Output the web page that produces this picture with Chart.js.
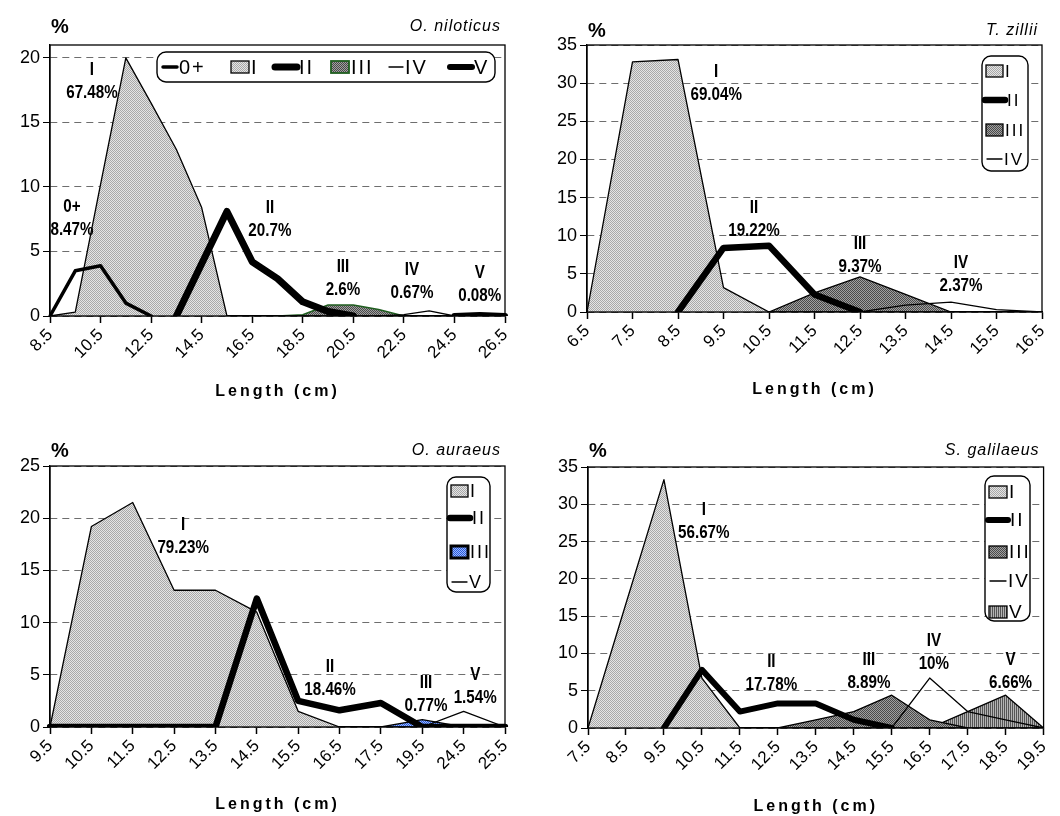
<!DOCTYPE html>
<html>
<head>
<meta charset="utf-8">
<script src="https://cdn.jsdelivr.net/npm/chart.js@4.4.0/dist/chart.umd.min.js"></script>
<style>
  body { margin: 0; background: #fff; width: 1060px; height: 816px; position: relative; overflow: hidden; }
  canvas { position: absolute; }
</style>
</head>
<body>
<canvas id="nil" width="530" height="408" style="left:0;top:0"></canvas>
<canvas id="zil" width="530" height="408" style="left:530px;top:0"></canvas>
<canvas id="aur" width="530" height="408" style="left:0;top:408px"></canvas>
<canvas id="gal" width="530" height="408" style="left:530px;top:408px"></canvas>
<script>
// O. niloticus
const nilLengths = ['8.5','9.5','10.5','11.5','12.5','13.5','14.5','15.5','16.5','17.5','18.5','19.5','20.5','21.5','22.5','23.5','24.5','25.5','26.5'];
const nilYTicks = [0, 5, 10, 15, 20];
const nilAge0 = [0,3.5,3.9,1.0,0,null,null,null,null,null,null,null,null,null,null,null,null,null,null];
const nilAgeI = [0,0.3,10.2,20,16.5,12.9,8.4,0,0,0,0,0,0,0,0,0,0,0,0];
const nilAgeII = [null,null,null,null,null,0,4.05,8.1,4.2,2.9,1.1,0.35,0,null,null,null,null,null,null];
const nilAgeIII = [null,null,null,null,null,null,null,null,null,0,0.1,0.85,0.85,0.5,0,null,null,null,null];
const nilAgeIV = [null,null,null,null,null,null,null,null,null,null,null,null,null,0,0.1,0.4,0,null,null];
const nilAgeV = [null,null,null,null,null,null,null,null,null,null,null,null,null,null,null,null,0,0.08,0];
const nilNotes = [[1.66,19.1,'I','67.48%'],[0.87,8.45,'0+','8.47%'],[8.7,8.37,'II','20.7%'],[11.59,3.85,'III','2.6%'],[14.32,3.57,'IV','0.67%'],[17.0,3.33,'V','0.08%']];

// T. zillii
const zilLengths = ['6.5','7.5','8.5','9.5','10.5','11.5','12.5','13.5','14.5','15.5','16.5'];
const zilYTicks = [0, 5, 10, 15, 20, 25, 30, 35];
const zilAgeI = [0,32.8,33.1,3.2,0,0,0,0,0,0,0];
const zilAgeII = [null,null,0,8.4,8.7,2.3,0,null,null,null,null];
const zilAgeIII = [null,null,null,null,0,2.5,4.6,2.3,0,null,null];
const zilAgeIV = [null,null,null,null,null,null,0,0.9,1.3,0.3,0];
const zilNotes = [[2.84,31.5,'I','69.04%'],[3.67,13.6,'II','19.22%'],[6.0,9.0,'III','9.37%'],[8.22,6.4,'IV','2.37%']];

// O. auraeus
const aurLengths = ['9.5','10.5','11.5','12.5','13.5','14.5','15.5','16.5','17.5','19.5','24.5','25.5'];
const aurYTicks = [0, 5, 10, 15, 20, 25];
const aurAgeI = [0,19.2,21.5,13.1,13.1,11.0,1.5,0,0,0,0,0];
const aurAgeII = [0,0,0,0,0,12.3,2.5,1.6,2.3,0,0,0];
const aurAgeIII = [null,null,null,null,null,null,null,null,0,0.7,0,null];
const aurAgeV = [null,null,null,null,null,null,null,null,null,0,1.5,0];
const aurNotes = [[3.22,19.35,'I','79.23%'],[6.77,5.75,'II','18.46%'],[9.09,4.2,'III','0.77%'],[10.28,5.0,'V','1.54%']];

// S. galilaeus
const galLengths = ['7.5','8.5','9.5','10.5','11.5','12.5','13.5','14.5','15.5','16.5','17.5','18.5','19.5'];
const galYTicks = [0, 5, 10, 15, 20, 25, 30, 35];
const galAgeI = [0,16.7,33.3,6.7,0,0,0,0,0,0,0,0,0];
const galAgeII = [null,null,0,7.8,2.2,3.3,3.3,1.1,0,null,null,null,null];
const galAgeIII = [null,null,null,null,null,0,1.1,2.2,4.4,1.1,0,null,null];
const galAgeIV = [null,null,null,null,null,null,null,null,0,6.7,2.2,1.1,0];
const galAgeV = [null,null,null,null,null,null,null,null,null,0,2.2,4.4,0];
const galNotes = [[3.05,29.2,'I','56.67%'],[4.83,8.85,'II','17.78%'],[7.4,9.1,'III','8.89%'],[9.11,11.7,'IV','10%'],[11.13,9.1,'V','6.66%']];

const FONT = '"Liberation Sans", Arial, sans-serif';

function texture(light, dark, kind) {
  const c = document.createElement('canvas');
  c.width = 4; c.height = 4;
  const g = c.getContext('2d');
  g.fillStyle = light;
  g.fillRect(0, 0, 4, 4);
  g.fillStyle = dark;
  if (kind === 'stripes') {
    g.fillRect(0, 0, 1, 4);
    g.fillRect(2, 0, 1, 4);
  } else {
    for (let y = 0; y < 4; y++)
      for (let x = 0; x < 4; x++)
        if ((x + y) % 2 === 0) g.fillRect(x, y, 1, 1);
  }
  return g.createPattern(c, 'repeat');
}
const lightDots = texture('#e4e4e4', '#a8a8a8');
const darkDots = texture('#a0a0a0', '#4a4a4a');
const blueDots = texture('#9ab8ff', '#2a5ad8');
const greyStripes = texture('#b4b4b4', '#555555', 'stripes');

// squeezed bold text, like the narrow face of the original
function narrowText(ctx, text, x, y) {
  ctx.save();
  ctx.translate(x, y);
  ctx.scale(0.8, 1);
  ctx.fillText(text, 0, 0);
  ctx.restore();
}

// draws frame, labels, legend and titles
const extras = {
  id: 'extras',
  afterDraw(chart, args, o) {
    const ctx = chart.ctx, a = chart.chartArea;
    const xs = chart.scales.x, ys = chart.scales.y;
    ctx.save();
    ctx.strokeStyle = '#000';
    ctx.lineWidth = 1.3;
    ctx.strokeRect(a.left, a.top, a.right - a.left, a.bottom - a.top);

    ctx.fillStyle = '#000';
    ctx.textAlign = 'center';
    ctx.textBaseline = 'middle';
    ctx.font = 'bold 19px ' + FONT;
    o.notes.forEach(n => {
      const x = xs.getPixelForValue(n[0]);
      const y = ys.getPixelForValue(n[1]);
      narrowText(ctx, n[2], x, y);
      narrowText(ctx, n[3], x, y + 23);
    });

    // legend
    const L = o.legend;
    ctx.beginPath();
    ctx.roundRect(L.x, L.y, L.w, L.h, 9);
    ctx.fillStyle = '#fff';
    ctx.fill();
    ctx.lineWidth = 1.4;
    ctx.strokeStyle = '#000';
    ctx.stroke();
    ctx.font = L.size + 'px ' + FONT;
    ctx.letterSpacing = '2px';
    ctx.textAlign = 'left';
    L.items.forEach(it => {
      const ds = chart.data.datasets[it.ds];
      const sx = L.x + it.x, sy = L.y + it.y;
      if (ds.fill) {
        ctx.fillStyle = ds.backgroundColor;
        ctx.fillRect(sx, sy - 6, it.w, 12);
        ctx.strokeStyle = ds.borderColor;
        ctx.lineWidth = it.bw || 1.3;
        ctx.strokeRect(sx, sy - 6, it.w, 12);
      } else {
        ctx.strokeStyle = ds.borderColor;
        ctx.lineWidth = ds.borderWidth;
        ctx.lineCap = 'round';
        ctx.beginPath();
        ctx.moveTo(sx, sy);
        ctx.lineTo(sx + it.w, sy);
        ctx.stroke();
      }
      ctx.fillStyle = '#000';
      ctx.fillText(ds.label, sx + it.w + 2, sy + 1);
    });

    ctx.font = 'bold 20px ' + FONT;
    ctx.letterSpacing = '0px';
    ctx.fillText('%', a.left + 1, o.headY);
    ctx.font = 'italic 16px ' + FONT;
    ctx.letterSpacing = '1px';
    ctx.textAlign = 'right';
    ctx.fillText(o.species, a.right - 4, o.headY);
    ctx.font = 'bold 16px ' + FONT;
    ctx.letterSpacing = '3px';
    ctx.textAlign = 'center';
    ctx.fillText('Length (cm)', (a.left + a.right) / 2, o.titleY);
    ctx.restore();
  }
};

function series(name, data, width, fill, border) {
  return {
    label: name, data: data,
    borderColor: border || '#000', borderWidth: width,
    backgroundColor: fill || 'rgba(0,0,0,0)',
    fill: fill ? 'origin' : false,
    order: fill ? 1 : 0,
    pointRadius: 0, tension: 0,
    borderJoinStyle: 'round', borderCapStyle: 'round'
  };
}

function panel(p) {
  new Chart(document.getElementById(p.id), {
    type: 'line',
    data: { labels: p.cats, datasets: p.datasets },
    options: {
      responsive: false, animation: false, events: [],
      layout: { padding: { left: 0, right: 530 - p.area.right, top: p.area.top, bottom: 0 } },
      plugins: {
        legend: { display: false },
        tooltip: { enabled: false },
        extras: { notes: p.notes, legend: p.legend, species: p.species, headY: p.headY, titleY: p.titleY }
      },
      scales: {
        x: {
          type: 'category', offset: false,
          grid: {
            drawOnChartArea: false, drawTicks: true, tickLength: 7, tickWidth: 1.5,
            tickColor: c => c.index % p.every === 0 ? '#000' : 'rgba(0,0,0,0)'
          },
          border: { color: '#000', width: 1.3 },
          ticks: {
            autoSkip: false, maxRotation: 45, minRotation: 45, padding: 2, color: '#000',
            font: { family: FONT, size: 17 },
            callback: (v, i) => i % p.every === 0 ? p.cats[i] : ''
          },
          afterFit: s => { s.height = 408 - p.area.bottom; }
        },
        y: {
          min: 0, max: p.yMax,
          afterBuildTicks: s => { s.ticks = p.yTicks.map(v => ({ value: v })); },
          grid: { color: '#6e6e6e', lineWidth: 1, drawTicks: true, tickLength: 7, tickColor: '#000', tickBorderDash: [] },
          border: { color: '#000', width: 1.3, dash: [7, 5] },
          ticks: { color: '#000', padding: 3, font: { family: FONT, size: 18 } },
          afterFit: s => { s.width = p.area.left; }
        }
      }
    },
    plugins: [extras]
  });
}

panel({
  id: 'nil', species: 'O. niloticus', cats: nilLengths, yTicks: nilYTicks, yMax: 21, every: 2,
  area: { left: 50, right: 505, top: 45, bottom: 316 }, headY: 27, titleY: 392,
  notes: nilNotes,
  datasets: [
    series('0+', nilAge0, 3.5),
    series('I', nilAgeI, 1.3, lightDots),
    series('II', nilAgeII, 7),
    series('III', nilAgeIII, 1.5, darkDots, '#1f5e1f'),
    series('IV', nilAgeIV, 1.3),
    series('V', nilAgeV, 6)
  ],
  legend: { x: 157, y: 52, w: 338, h: 30, size: 20, items: [
    { ds: 0, x: 6, y: 15, w: 14 }, { ds: 1, x: 74, y: 15, w: 18 }, { ds: 2, x: 118, y: 15, w: 22 },
    { ds: 3, x: 174, y: 15, w: 18, bw: 1.8 }, { ds: 4, x: 232, y: 15, w: 14 }, { ds: 5, x: 293, y: 15, w: 22 }
  ] }
});

panel({
  id: 'zil', species: 'T. zillii', cats: zilLengths, yTicks: zilYTicks, yMax: 35, every: 1,
  area: { left: 57, right: 512, top: 45, bottom: 312 }, headY: 31, titleY: 390,
  notes: zilNotes,
  datasets: [
    series('I', zilAgeI, 1.3, lightDots),
    series('II', zilAgeII, 6.5),
    series('III', zilAgeIII, 1.3, darkDots),
    series('IV', zilAgeIV, 1.3)
  ],
  legend: { x: 452, y: 56, w: 46, h: 115, size: 17, items: [
    { ds: 0, x: 4, y: 15, w: 17 }, { ds: 1, x: 3, y: 44, w: 20 },
    { ds: 2, x: 4, y: 74, w: 17 }, { ds: 3, x: 5, y: 103, w: 15 }
  ] }
});

panel({
  id: 'aur', species: 'O. auraeus', cats: aurLengths, yTicks: aurYTicks, yMax: 25, every: 1,
  area: { left: 50, right: 505, top: 58, bottom: 319 }, headY: 43, titleY: 397,
  notes: aurNotes,
  datasets: [
    series('I', aurAgeI, 1.3, lightDots),
    series('II', aurAgeII, 6.5),
    series('III', aurAgeIII, 1.3, blueDots),
    series('V', aurAgeV, 1.3)
  ],
  legend: { x: 447, y: 69, w: 43, h: 115, size: 18, items: [
    { ds: 0, x: 4, y: 14, w: 17 }, { ds: 1, x: 3, y: 41, w: 20 },
    { ds: 2, x: 4, y: 75, w: 17, bw: 3 }, { ds: 3, x: 5, y: 105, w: 15 }
  ] }
});

panel({
  id: 'gal', species: 'S. galilaeus', cats: galLengths, yTicks: galYTicks, yMax: 35, every: 1,
  area: { left: 58, right: 515, top: 59, bottom: 320 }, headY: 43, titleY: 399,
  notes: galNotes,
  datasets: [
    series('I', galAgeI, 1.3, lightDots),
    series('II', galAgeII, 6),
    series('III', galAgeIII, 1.3, darkDots),
    series('IV', galAgeIV, 1.3),
    series('V', galAgeV, 1.3, greyStripes)
  ],
  legend: { x: 455, y: 68, w: 45, h: 145, size: 19, items: [
    { ds: 0, x: 4, y: 16, w: 18 }, { ds: 1, x: 3, y: 44, w: 20 },
    { ds: 2, x: 4, y: 76, w: 18 }, { ds: 3, x: 5, y: 105, w: 16 }, { ds: 4, x: 4, y: 136, w: 18 }
  ] }
});
</script>
</body>
</html>
